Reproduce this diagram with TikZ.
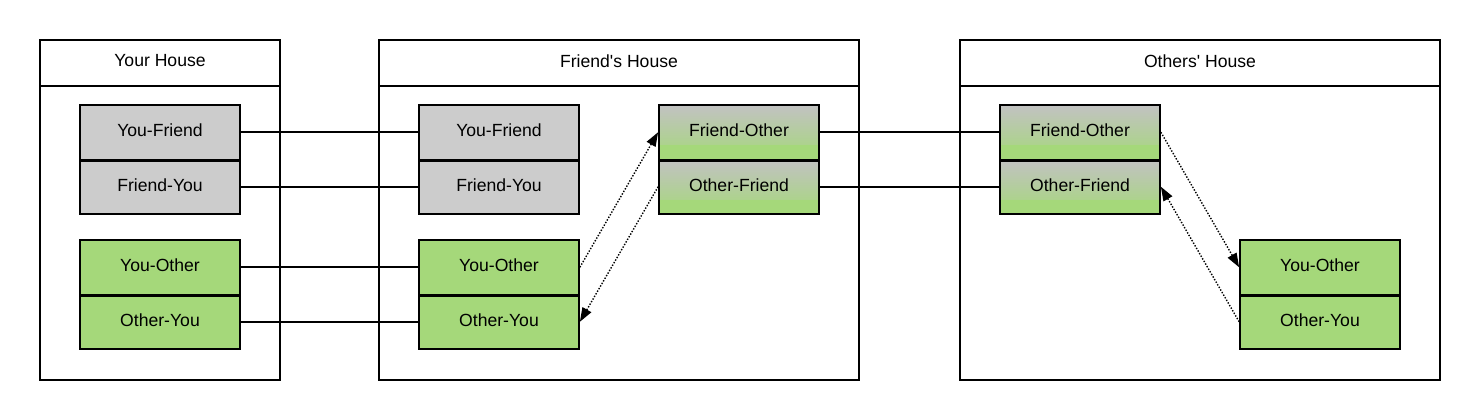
\documentclass[tikz,border=0pt]{standalone}
\usepackage{fontspec}
\setmainfont{Liberation Sans}[Ligatures=TeXOff]
\usetikzlibrary{arrows.meta}
\definecolor{cgreen}{HTML}{A5D87A}
\definecolor{cgray}{HTML}{CCCCCC}
\definecolor{cgtop}{HTML}{C2C2C2}
\begin{document}
\begin{tikzpicture}[x=1pt,y=-1pt,
  every node/.style={font=\fontsize{17.6}{20}\selectfont},
  house/.style={draw, line width=1.8pt, minimum width=240pt, minimum height=340pt, inner sep=0pt},
  cell/.style={draw, line width=1.8pt, minimum width=160pt, minimum height=54.5pt, inner sep=0pt, text height=12.7pt, text depth=4pt},
  graycell/.style={cell, fill=cgray},
  greencell/.style={cell, fill=cgreen},
  gradcell/.style={cell, fill=cgreen, path picture={
      \shade[top color=cgtop, bottom color=cgreen]
        (path picture bounding box.north west) rectangle ([yshift=15pt]path picture bounding box.south east);}},
  link/.style={line width=1.8pt},
  divider/.style={line width=2.2pt},
  flow/.style={line width=1.4pt, dash pattern=on 1.4pt off 1.6pt, -{Triangle[length=14pt,width=10pt]}}
]
\useasboundingbox (0,0) rectangle (1480,420);
% houses
\node[house] (yh) at (160,210) {};
\node[house, minimum width=480pt] (fh) at (619,210) {};
\node[house, minimum width=480pt] (oh) at (1200,210) {};
\foreach \h in {yh,fh,oh}{
  \draw[link] ([yshift=-47pt]\h.north west) -- ([yshift=-47pt]\h.north east);
}
\node (yht) at (160,61) {Your House};
\node (fht) at (619,61) {Friend's House};
\node (oht) at (1200,61) {Others' House};
% your house cells
\node[graycell] (yyf) at (160,132.25) {You-Friend};
\node[graycell] (yfy) at (160,186.75) {Friend-You};
\node[greencell] (yyo) at (160,267.25) {You-Other};
\node[greencell] (you) at (160,321.75) {Other-You};
% friend's house cells
\node[graycell] (fyf) at (499,132.25) {You-Friend};
\node[graycell] (ffy) at (499,186.75) {Friend-You};
\node[greencell] (fyo) at (499,267.25) {You-Other};
\node[greencell] (fou) at (499,321.75) {Other-You};
\node[gradcell] (ffo) at (739,132.25) {Friend-Other};
\node[gradcell] (fof) at (739,186.75) {Other-Friend};
% others' house cells
\node[gradcell] (ofo) at (1080,132.25) {Friend-Other};
\node[gradcell] (oof) at (1080,186.75) {Other-Friend};
\node[greencell] (oyo) at (1320,267.25) {You-Other};
\node[greencell] (oou) at (1320,321.75) {Other-You};
% dividers between stacked cells
\foreach \c in {yyf,yyo,fyf,fyo,ffo,ofo,oyo}{
  \draw[divider] (\c.south west) -- (\c.south east);
}
% links
\draw[link] (yyf.east) -- (fyf.west);
\draw[link] (yfy.east) -- (ffy.west);
\draw[link] (yyo.east) -- (fyo.west);
\draw[link] (you.east) -- (fou.west);
\draw[link] (ffo.east) -- (ofo.west);
\draw[link] (fof.east) -- (oof.west);
% flows
\draw[flow] (fyo.east) -- (ffo.west);
\draw[flow] (fof.west) -- (fou.east);
\draw[flow] (ofo.east) -- (oyo.west);
\draw[flow] (oou.west) -- (oof.east);
\end{tikzpicture}
\end{document}
